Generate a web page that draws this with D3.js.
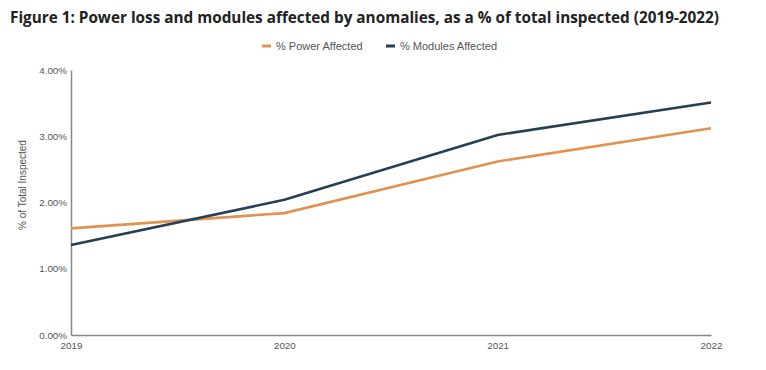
<!DOCTYPE html>
<html><head><meta charset="utf-8">
<script src="https://cdn.jsdelivr.net/npm/d3@7"></script>
<style>body{margin:0;background:#fff}svg{display:block}</style>
</head><body>
<svg id="c" width="766" height="370"></svg>
<script>
const years = [2019, 2020, 2021, 2022];
const powerAffected = [1.61, 1.84, 2.62, 3.12];
const modulesAffected = [1.36, 2.04, 3.02, 3.51];
const yTicks = [0, 1, 2, 3, 4];
const seriesNames = ["% Power Affected", "% Modules Affected"];
const colors = ["#e0924e", "#253f54"];

const svg = d3.select("#c");
const m = {l: 71, r: 711, t: 70, b: 335};
const x = d3.scaleLinear().domain([2019, 2022]).range([m.l, m.r]);
const y = d3.scaleLinear().domain([0, 4]).range([m.b, m.t]);

svg.append("text").attr("x", 10).attr("y", 23)
  .attr("font-family", "Open Sans").attr("font-weight", "bold").attr("font-size", 15.3)
  .attr("fill", "#222").text("Figure 1: Power loss and modules affected by anomalies, as a % of total inspected (2019-2022)");

// legend
const leg = [{x: 262, name: seriesNames[0], c: colors[0]}, {x: 386, name: seriesNames[1], c: colors[1]}];
leg.forEach(d => {
  svg.append("rect").attr("x", d.x).attr("y", 44.5).attr("width", 9).attr("height", 3).attr("fill", d.c);
  svg.append("text").attr("x", d.x + 14).attr("y", 50).attr("font-family", "Liberation Sans, Arial")
    .attr("font-size", 11).attr("fill", "#555").text(d.name);
});

// y axis
const ya = svg.append("g").attr("transform", `translate(${m.l},0)`)
  .call(d3.axisLeft(y).tickValues(yTicks).tickFormat(d => d.toFixed(2) + "%").tickSize(0).tickPadding(4));
ya.select(".domain").attr("stroke", "#888").attr("stroke-width", 1.5);
ya.selectAll("text").attr("font-family", "Liberation Sans, Arial").attr("font-size", 9.8).attr("fill", "#555");

// x axis
const xa = svg.append("g").attr("transform", `translate(0,${m.b})`)
  .call(d3.axisBottom(x).tickValues(years).tickFormat(d3.format("d")).tickSize(0).tickPadding(7));
xa.select(".domain").attr("stroke", "#888").attr("stroke-width", 1.5);
xa.selectAll("text").attr("font-family", "Liberation Sans, Arial").attr("font-size", 9.8).attr("fill", "#555");

svg.append("text").attr("transform", `translate(26,185) rotate(-90)`)
  .attr("text-anchor", "middle").attr("font-family", "Liberation Sans, Arial").attr("font-size", 10)
  .attr("fill", "#555").text("% of Total Inspected");

const line = d3.line().x((d, i) => x(years[i])).y(d => y(d));
[powerAffected, modulesAffected].forEach((s, i) => {
  svg.append("path").datum(s).attr("d", line).attr("fill", "none")
    .attr("stroke", colors[i]).attr("stroke-width", 2.6);
});
</script>
</body></html>
